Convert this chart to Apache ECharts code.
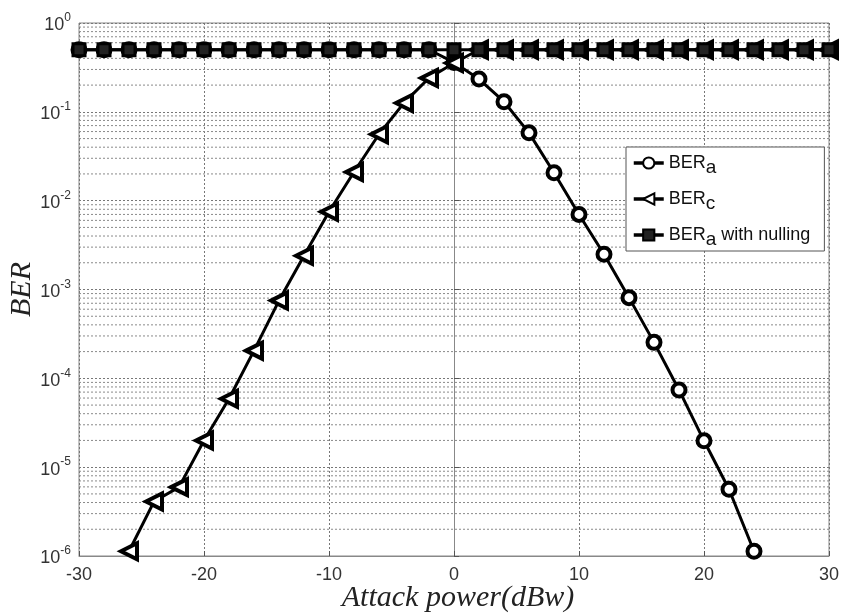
<!DOCTYPE html>
<html>
<head>
<meta charset="utf-8">
<script src="https://cdn.jsdelivr.net/npm/echarts@6/dist/echarts.min.js"></script>
<style>html,body{margin:0;padding:0;background:#fff}#c{width:842px;height:614px}</style>
</head>
<body>
<div id="c"></div>
<script>
const xValues = [-30,-28,-26,-24,-22,-20,-18,-16,-14,-12,-10,-8,-6,-4,-2,0,2,4,6,8,10,12,14,16,18,20,22,24,26,28,30];
const berA = [0.5,0.5,0.5,0.5,0.5,0.5,0.5,0.5,0.5,0.5,0.5,0.5,0.5,0.5,0.5,0.36,0.234,0.13,0.058,0.0206,0.0070,0.00249,8.1e-4,2.54e-4,7.4e-5,1.98e-5,5.65e-6,1.13e-6,null,null,null];
const berC = [null,null,1.13e-6,4.1e-6,5.96e-6,2.0e-5,5.9e-5,2.05e-4,7.5e-4,2.4e-3,7.5e-3,0.021,0.056,0.126,0.24,0.355,0.5,0.5,0.5,0.5,0.5,0.5,0.5,0.5,0.5,0.5,0.5,0.5,0.5,0.5,0.5];
const berNull = [0.5,0.5,0.5,0.5,0.5,0.5,0.5,0.5,0.5,0.5,0.5,0.5,0.5,0.5,0.5,0.5,0.5,0.5,0.5,0.5,0.5,0.5,0.5,0.5,0.5,0.5,0.5,0.5,0.5,0.5,0.5];
const seriesNames = ['BER{sub|a}', 'BER{sub|c}', 'BER{sub|a} with nulling'];
const xTicks = [-30,-20,-10,0,10,20,30];
const yDecades = [-6,-5,-4,-3,-2,-1,0];

const pairs = arr => xValues.map((x,i) => arr[i] == null ? null : [x, arr[i]]).filter(p => p);

// minor log grid lines (2..9 x 10^d), drawn as plain line series through the axes
const gridSeries = [];
for (let d = -6; d < 0; d++) {
  for (let k = 2; k <= 9; k++) {
    const v = k * Math.pow(10, d);
    gridSeries.push({type: 'line', silent: true, symbol: 'none', z: 1,
      data: [[-30, v], [30, v]],
      lineStyle: {color: '#8a8a8a', type: [2, 2], width: 1}, tooltip: {show: false}});
  }
}

const chart = echarts.init(document.getElementById('c'), null, {renderer: 'canvas'});
const lineStyle = {color: '#000', width: 3};
chart.setOption({
  animation: false,
  backgroundColor: '#fff',
  grid: {left: 79, right: 13, top: 23, bottom: 58, containLabel: false, outerBoundsMode: 'none',
    show: true, borderColor: '#888', borderWidth: 1, backgroundColor: 'transparent'},
  legend: {
    orient: 'vertical', left: 626, top: 147,
    padding: [7, 14, 2, 6], itemGap: 13, itemWidth: 30, itemHeight: 14,
    backgroundColor: '#fff', borderColor: '#555', borderWidth: 1,
    lineStyle: {width: 3.5, color: '#000'},
    textStyle: {fontFamily: 'Liberation Sans, Arial', fontSize: 18, color: '#111',
      rich: {sub: {fontFamily: 'Liberation Sans, Arial', fontSize: 19, color: '#111', padding: [9, 0, 0, 0]}}},
    data: seriesNames
  },
  xAxis: {
    type: 'value', min: -30, max: 30, interval: 10,
    axisLine: {onZero: false, lineStyle: {color: '#888'}},
    axisTick: {inside: true, length: 5, lineStyle: {color: '#555'}},
    axisLabel: {fontFamily: 'Liberation Sans, Arial', fontSize: 18, color: '#333', margin: 10},
    splitLine: {show: true, lineStyle: {color: '#777', type: [2, 2], width: 1}},
    name: 'Attack power(dBw)', nameLocation: 'middle', nameGap: 27, nameMoveOverlap: false,
    nameTextStyle: {fontFamily: 'Liberation Serif, Times New Roman', fontStyle: 'italic', fontSize: 30, color: '#222',
      padding: [0, 0, 0, 8]}
  },
  yAxis: {
    type: 'log', logBase: 10, min: 1e-6, max: 1, interval: 1,
    axisLine: {lineStyle: {color: '#888'}},
    axisTick: {inside: true, length: 5, lineStyle: {color: '#555'}},
    axisLabel: {fontFamily: 'Liberation Sans, Arial', fontSize: 18, color: '#333', margin: 8,
      formatter: v => '{base|10}{sup|' + Math.round(Math.log10(v)) + '}',
      rich: {
        base: {fontFamily: 'Liberation Sans, Arial', fontSize: 18, color: '#333', padding: [5, 0, 0, 0]},
        sup: {fontFamily: 'Liberation Sans, Arial', fontSize: 12, color: '#333', padding: [0, 0, 10, 0]}}},
    splitLine: {show: true, lineStyle: {color: '#777', type: [2, 2], width: 1}},
    name: 'BER', nameLocation: 'middle', nameGap: 42, nameRotate: 90, nameMoveOverlap: false,
    nameTextStyle: {fontFamily: 'Liberation Serif, Times New Roman', fontStyle: 'italic', fontSize: 30, color: '#222'}
  },
  series: gridSeries.concat([
    {name: seriesNames[0], type: 'line', data: pairs(berA), symbol: 'circle', symbolSize: 13,
     lineStyle: lineStyle, itemStyle: {color: '#fff', borderColor: '#000', borderWidth: 4}, z: 3},
    {name: seriesNames[1], type: 'line', data: pairs(berC), symbol: 'triangle', symbolSize: 16, symbolRotate: 90,
     lineStyle: lineStyle, itemStyle: {color: '#fff', borderColor: '#000', borderWidth: 4}, z: 4},
    {name: seriesNames[2], type: 'line', data: pairs(berNull), symbol: 'rect', symbolSize: 12,
     lineStyle: lineStyle, itemStyle: {color: '#222', borderColor: '#000', borderWidth: 3}, z: 5}
  ])
});
</script>
</body>
</html>
